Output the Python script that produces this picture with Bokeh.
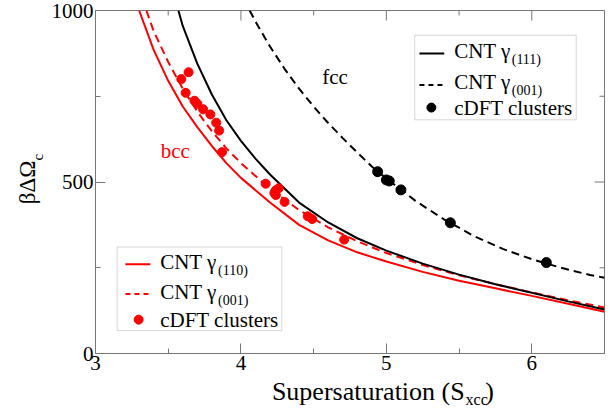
import math
from bokeh.plotting import figure
from bokeh.layouts import row, column
from bokeh.models import (SingleIntervalTicker, Label, BoxAnnotation, Range1d)
from bokeh.embed import file_html
from bokeh.resources import INLINE

# ---------------- data ----------------
# bcc, CNT gamma(110)  (red solid)
s_bcc110 = [3.30, 3.40, 3.50, 3.60, 3.70, 3.80, 3.90, 4.00, 4.20, 4.40, 4.60, 4.80,
            5.00, 5.25, 5.50, 5.75, 6.00, 6.25, 6.50]
y_bcc110 = [1000, 885, 795, 720, 660, 605, 555, 512, 440, 375, 330, 295,
            268, 238, 212, 190, 168, 145, 122]
# bcc, CNT gamma(001)  (red dashed)
s_bcc001 = [3.35, 3.40, 3.50, 3.60, 3.70, 3.80, 3.90, 4.00, 4.20, 4.40, 4.60, 4.80,
            5.00, 5.25, 5.50, 5.75, 6.00, 6.25, 6.50]
y_bcc001 = [1000, 940, 850, 772, 705, 648, 598, 555, 480, 418, 368, 327,
            293, 258, 228, 202, 178, 155, 134]
# bcc, cDFT clusters (red dots)
s_bcc_dft = [3.59, 3.64, 3.62, 3.68, 3.70, 3.74, 3.79, 3.83, 3.85, 3.87,
             4.17, 4.23, 4.24, 4.26, 4.24, 4.30, 4.46, 4.49, 4.71]
y_bcc_dft = [800, 820, 760, 737, 728, 712, 697, 673, 650, 587,
             495, 468, 476, 482, 462, 442, 400, 392, 332]
# fcc, CNT gamma(111)  (black solid)
s_fcc111 = [3.57, 3.60, 3.70, 3.80, 3.90, 4.00, 4.10, 4.20, 4.40, 4.60, 4.80,
            5.00, 5.25, 5.50, 5.75, 6.00, 6.25, 6.50]
y_fcc111 = [1000, 955, 845, 755, 680, 620, 568, 522, 440, 382, 336,
            300, 262, 230, 202, 177, 152, 128]
# fcc, CNT gamma(001)  (black dashed)
s_fcc001 = [4.06, 4.10, 4.20, 4.30, 4.40, 4.50, 4.60, 4.70, 4.80, 4.90, 5.00,
            5.10, 5.20, 5.40, 5.60, 5.80, 6.00, 6.20, 6.40, 6.50]
y_fcc001 = [1000, 968, 895, 830, 772, 720, 672, 628, 586, 545, 510,
            478, 445, 390, 343, 305, 275, 250, 229, 221]
# fcc, cDFT clusters (black dots)
s_fcc_dft = [4.94, 5.00, 5.02, 5.10, 5.44, 6.10]
y_fcc_dft = [530, 506, 503, 477, 381, 265]

x_range = (3.0, 6.5)
y_range = (0.0, 1000.0)
x_major = [3, 4, 5, 6]
x_minor = [3.5, 4.5, 5.5, 6.5]
y_major = [0, 500, 1000]
y_minor = [250, 750]

FONT = "Liberation Serif"
RED = "#ff0000"
GRAY = "#777777"

# geometry (page pixels)
W, H = 616, 409
YLAB_W = 48
FRAME_L, FRAME_R, FRAME_T, FRAME_B = 92, 604, 10, 353
MAIN_H = 378

px_per_x = (FRAME_R - FRAME_L) / (x_range[1] - x_range[0])
px_per_y = (FRAME_B - FRAME_T) / (y_range[1] - y_range[0])

# reference-picture pixel -> data (for decorations inside the frame)
def dx(px):
    return 3.0 + (px - 91.5) / (604.5 - 91.5) * 3.5

def dy(py):
    return (353.0 - py) / (353.0 - 8.5) * 1000.0

p = figure(width=W - YLAB_W, height=MAIN_H, x_range=Range1d(*x_range), y_range=Range1d(*y_range),
           output_backend="svg", toolbar_location=None,
           min_border_left=FRAME_L - YLAB_W, min_border_right=W - FRAME_R,
           min_border_top=FRAME_T, min_border_bottom=MAIN_H - FRAME_B)
p.xgrid.visible = False
p.ygrid.visible = False
p.outline_line_color = GRAY
p.outline_line_width = 1
p.background_fill_color = "white"
p.border_fill_color = "white"

for ax, iv in ((p.xaxis[0], 1), (p.yaxis[0], 500)):
    ax.ticker = SingleIntervalTicker(interval=iv, num_minor_ticks=2)
    ax.axis_line_color = GRAY
    ax.major_tick_line_color = GRAY
    ax.minor_tick_line_color = GRAY
    ax.major_tick_in = 10
    ax.major_tick_out = 0
    ax.minor_tick_in = 5
    ax.minor_tick_out = 0
    ax.major_label_text_font = FONT
    ax.major_label_text_font_size = "21px"
    ax.major_label_text_color = "black"
    ax.major_label_standoff = 2
    ax.axis_label = None

# mirrored ticks on the right and top edges
tx_major = 10 / px_per_x
tx_minor = 5 / px_per_x
ty_major = 10 / px_per_y
ty_minor = 5 / px_per_y
p.segment(x0=[x_range[1] - tx_major] * len(y_major), x1=[x_range[1]] * len(y_major),
          y0=y_major, y1=y_major, line_color=GRAY, line_width=1)
p.segment(x0=[x_range[1] - tx_minor] * len(y_minor), x1=[x_range[1]] * len(y_minor),
          y0=y_minor, y1=y_minor, line_color=GRAY, line_width=1)
p.segment(x0=x_major, x1=x_major, y0=[y_range[1] - ty_major] * len(x_major),
          y1=[y_range[1]] * len(x_major), line_color=GRAY, line_width=1)
p.segment(x0=x_minor, x1=x_minor, y0=[y_range[1] - ty_minor] * len(x_minor),
          y1=[y_range[1]] * len(x_minor), line_color=GRAY, line_width=1)

# ---------------- curves ----------------
p.line(s_bcc110, y_bcc110, line_color=RED, line_width=2)
p.line(s_bcc001, y_bcc001, line_color=RED, line_width=2, line_dash="8 5")
p.line(s_fcc111, y_fcc111, line_color="black", line_width=2)
p.line(s_fcc001, y_fcc001, line_color="black", line_width=2, line_dash="8 5")
p.scatter(s_bcc_dft, y_bcc_dft, size=9, fill_color=RED, line_color=RED)
p.scatter(s_fcc_dft, y_fcc_dft, size=10, fill_color="black", line_color="black")

# ---------------- texts inside the frame ----------------
def lab(fig, text, x, y, size, color="black", align="left", baseline="middle", angle=0.0):
    fig.add_layout(Label(x=x, y=y, text=text, text_font=FONT,
                         text_font_size=f"{size}px", text_color=color,
                         text_align=align, text_baseline=baseline, angle=angle))

def plab(text, px, py, size, **kw):
    lab(p, text, dx(px), dy(py), size, **kw)

plab("fcc", 333, 75, 21, align="center")
plab("bcc", 172, 150, 21, color=RED, align="center")

# legends
p.add_layout(BoxAnnotation(left=dx(413.3), right=dx(576), top=dy(33.3), bottom=dy(118.3),
                           fill_alpha=0, line_color=GRAY, line_width=1))
p.add_layout(BoxAnnotation(left=dx(113.3), right=dx(279.3), top=dy(246), bottom=dy(330),
                           fill_alpha=0, line_color=GRAY, line_width=1))

p.line([dx(418), dx(443)], [dy(51.7), dy(51.7)], line_color="black", line_width=2)
p.line([dx(418), dx(443)], [dy(83.3), dy(83.3)], line_color="black", line_width=2, line_dash="5 4")
p.scatter([dx(430)], [dy(106)], size=9, fill_color="black", line_color="black")
plab("CNT \u03b3", 453, 49, 21)
plab("(111)", 511, 58, 14)
plab("CNT \u03b3", 453, 80, 21)
plab("(001)", 511, 89, 14)
plab("cDFT clusters", 453, 106, 21)

p.line([dx(121.7), dx(146.7)], [dy(263.3), dy(263.3)], line_color=RED, line_width=2)
p.line([dx(121.7), dx(146.7)], [dy(293.3), dy(293.3)], line_color=RED, line_width=2, line_dash="5 4")
p.scatter([dx(135)], [dy(319)], size=9, fill_color=RED, line_color=RED)
plab("CNT \u03b3", 156.7, 261, 21)
plab("(110)", 215, 270, 14)
plab("CNT \u03b3", 156.7, 291, 21)
plab("(001)", 215, 300, 14)
plab("cDFT clusters", 156.7, 319, 21)

# ---------------- axis titles (own small panels, page-pixel coordinates) ----------------
def text_panel(width, height, x0, y0):
    f = figure(width=width, height=height, x_range=Range1d(x0, x0 + width),
               y_range=Range1d(y0 + height, y0), output_backend="svg",
               toolbar_location=None, x_axis_location=None, y_axis_location=None,
               min_border=0, outline_line_color=None)
    f.xgrid.visible = False
    f.ygrid.visible = False
    f.background_fill_color = "white"
    f.border_fill_color = "white"
    return f

ylab = text_panel(YLAB_W, H, 0, 0)
lab(ylab, "\u03b2\u0394\u03a9", 27, 182, 23, align="center", angle=math.pi / 2)
lab(ylab, "c", 37, 160, 15, align="left", angle=math.pi / 2)

xlab = text_panel(W - YLAB_W, H - MAIN_H, YLAB_W, MAIN_H)
lab(xlab, "Supersaturation (S", 460, 391, 26, align="right")
lab(xlab, "xcc", 461, 399, 16, align="left")
lab(xlab, ")", 483, 391, 26, align="left")

layout = row(ylab, column(p, xlab, spacing=0), spacing=0)

open("out.html", "w").write(file_html(layout, INLINE))
